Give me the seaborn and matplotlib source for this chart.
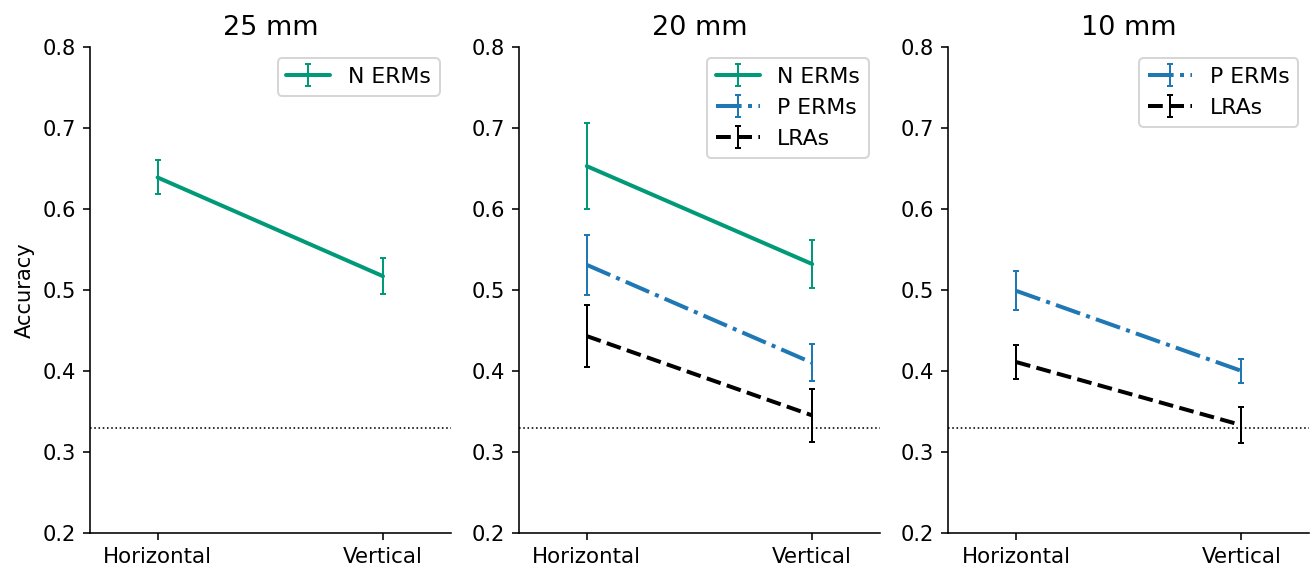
import matplotlib
matplotlib.use("Agg")
import matplotlib.pyplot as plt
import seaborn as sns

# ── data ───────────────────────────────────────────────────────────────────
conditions = ["Horizontal", "Vertical"]
panels = ["25 mm", "20 mm", "10 mm"]
chance = 0.33

# mean accuracy and error (half-width) per panel
n_erm_mean = {"25 mm": [0.639, 0.517], "20 mm": [0.653, 0.532]}
n_erm_err  = {"25 mm": [0.021, 0.022], "20 mm": [0.053, 0.030]}
p_erm_mean = {"20 mm": [0.531, 0.410], "10 mm": [0.499, 0.400]}
p_erm_err  = {"20 mm": [0.037, 0.023], "10 mm": [0.024, 0.015]}
lra_mean   = {"20 mm": [0.443, 0.345], "10 mm": [0.411, 0.333]}
lra_err    = {"20 mm": [0.038, 0.033], "10 mm": [0.021, 0.022]}

series = [
    ("N ERMs", n_erm_mean, n_erm_err, "#009a78", "-"),
    ("P ERMs", p_erm_mean, p_erm_err, "#1f77b4", "-."),
    ("LRAs",   lra_mean,   lra_err,   "black",   "--"),
]

yticks = [0.2, 0.3, 0.4, 0.5, 0.6, 0.7, 0.8]

# ── style ──────────────────────────────────────────────────────────────────
sns.set_style("ticks", rc={"axes.edgecolor": "black", "text.color": "black",
                           "xtick.color": "black", "ytick.color": "black",
                           "axes.labelcolor": "black"})
plt.rcParams["font.family"] = ["DejaVu Sans"]

fig, axes = plt.subplots(1, 3, figsize=(1313 / 144, 568 / 144), dpi=144)
fig.subplots_adjust(left=0.0685, right=0.997, bottom=0.062, top=0.917,
                    wspace=0.19)

x = list(range(len(conditions)))
for ax, panel in zip(axes, panels):
    for label, means, errs, color, ls in series:
        if panel not in means:
            continue
        ax.errorbar(x, means[panel], yerr=errs[panel], color=color, ls=ls,
                    lw=2.0, elinewidth=1.0, capsize=1.5, capthick=1.0,
                    label=label)
    ax.axhline(chance, color="black", ls=":", lw=0.8)
    ax.set_xlim(-0.3, 1.3)
    ax.set_ylim(0.2, 0.8)
    ax.set_yticks(yticks)
    ax.set_xticks(x)
    ax.set_xticklabels(conditions, fontsize=10.7)
    ax.tick_params(axis="y", labelsize=10.5)
    ax.set_title(panel, fontsize=13.5, pad=6)
    ax.legend(loc="upper right", fontsize=11)
    sns.despine(ax=ax)

axes[0].set_ylabel("Accuracy", fontsize=10.5)

fig.savefig("out.png", dpi=144)
